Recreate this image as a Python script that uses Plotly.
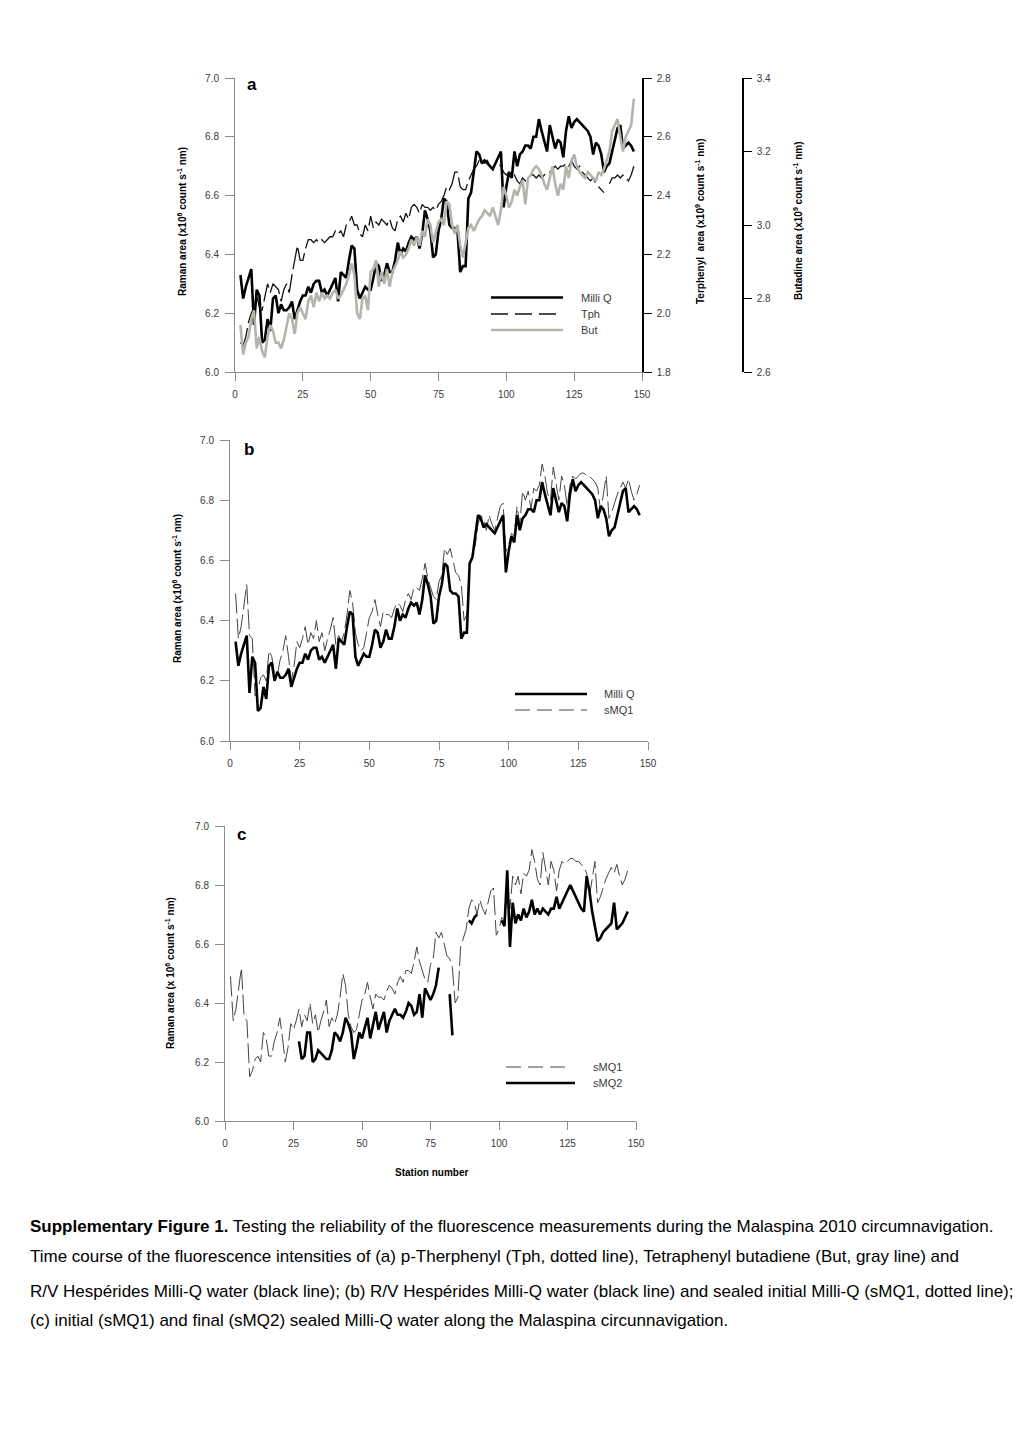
import plotly.graph_objects as go

# ---------------- data ----------------
stations = list(range(2, 148))

milli_q = [
    6.33, 6.25, 6.29, 6.32, 6.35, 6.16, 6.28, 6.26, 6.10, 6.11,
    6.18, 6.14, 6.25, 6.26, 6.20, 6.23, 6.21, 6.21, 6.22, 6.24,
    6.18, 6.21, 6.24, 6.26, 6.26, 6.29, 6.27, 6.30, 6.31, 6.31,
    6.27, 6.28, 6.26, 6.28, 6.30, 6.32, 6.24, 6.34, 6.33, 6.32,
    6.38, 6.43, 6.42, 6.28, 6.25, 6.27, 6.29, 6.28, 6.28, 6.32,
    6.37, 6.36, 6.31, 6.33, 6.37, 6.34, 6.34, 6.38, 6.44, 6.40,
    6.42, 6.41, 6.44, 6.46, 6.45, 6.46, 6.42, 6.47, 6.55, 6.52,
    6.48, 6.39, 6.40, 6.48, 6.52, 6.59, 6.58, 6.50, 6.49, 6.49,
    6.48, 6.34, 6.36, 6.36, 6.59, 6.61, 6.68, 6.75, 6.74, 6.71,
    6.72, 6.71, 6.70, 6.69, 6.71, 6.73, 6.75, 6.56, 6.63, 6.68,
    6.66, 6.75, 6.70, 6.74, 6.75, 6.77, 6.77, 6.76, 6.80, 6.80,
    6.86, 6.82, 6.78, 6.75, 6.84, 6.80, 6.76, 6.79, 6.78, 6.73,
    6.82, 6.87, 6.83, 6.85, 6.86, 6.85, 6.84, 6.83, 6.82, 6.80,
    6.74, 6.78, 6.77, 6.74, 6.68, 6.70, 6.71, 6.75, 6.79, 6.83,
    6.84, 6.76, 6.77, 6.78, 6.77, 6.75,
]

smq1 = [
    6.49, 6.34, 6.38, 6.45, 6.52, 6.35, 6.34, 6.15, 6.17, 6.21,
    6.22, 6.20, 6.30, 6.28, 6.22, 6.22, 6.27, 6.30, 6.35, 6.28,
    6.20, 6.25, 6.33, 6.31, 6.34, 6.38, 6.32, 6.36, 6.34, 6.40,
    6.33, 6.36, 6.30, 6.34, 6.37, 6.41, 6.32, 6.35, 6.33, 6.36,
    6.42, 6.50, 6.46, 6.36, 6.32, 6.30, 6.31, 6.36, 6.41, 6.43,
    6.47, 6.42, 6.38, 6.43, 6.42, 6.42, 6.41, 6.44, 6.46, 6.45,
    6.43, 6.47, 6.49, 6.47, 6.51, 6.51, 6.50, 6.54, 6.59, 6.54,
    6.51, 6.48, 6.47, 6.53, 6.55, 6.64, 6.62, 6.64, 6.60, 6.56,
    6.55, 6.52, 6.40, 6.42, 6.59, 6.62, 6.65, 6.72, 6.75, 6.74,
    6.70, 6.75, 6.72, 6.70, 6.74, 6.78, 6.79, 6.63, 6.65, 6.69,
    6.68, 6.78, 6.72, 6.83, 6.80, 6.83, 6.77, 6.84, 6.83, 6.85,
    6.92, 6.88, 6.82, 6.80, 6.91, 6.86, 6.80, 6.88, 6.85, 6.78,
    6.85, 6.88, 6.87, 6.88, 6.89, 6.89, 6.88, 6.88, 6.87, 6.86,
    6.84, 6.76, 6.82, 6.88, 6.74, 6.76, 6.79, 6.82, 6.84, 6.86,
    6.84, 6.87, 6.83, 6.80, 6.82, 6.85,
]

# Terphenyl (right axis, x10^9)
tph = [
    1.90, 1.89, 1.92, 1.97, 2.00, 2.02, 2.06, 2.02, 2.01, 2.06,
    2.10, 2.07, 2.10, 2.09, 2.08, 2.04, 2.08, 2.10, 2.07, 2.13,
    2.18, 2.23, 2.18, 2.18, 2.22, 2.25, 2.25, 2.24, 2.25, 2.24,
    2.25, 2.24, 2.25, 2.26, 2.26, 2.28, 2.27, 2.28, 2.26, 2.30,
    2.31, 2.33, 2.30, 2.30, 2.27, 2.26, 2.30, 2.28, 2.33, 2.29,
    2.31, 2.30, 2.32, 2.31, 2.30, 2.32, 2.29, 2.28, 2.32, 2.33,
    2.31, 2.34, 2.32, 2.36, 2.37, 2.36, 2.34, 2.37, 2.36, 2.36,
    2.35, 2.36, 2.35, 2.37, 2.38, 2.40, 2.43, 2.42, 2.44, 2.48,
    2.48, 2.43, 2.42, 2.42, 2.45, 2.47, 2.49, 2.50, 2.52, 2.52,
    2.51, 2.52, 2.50, 2.49, 2.51, 2.51, 2.50, 2.48, 2.47, 2.48,
    2.46, 2.47, 2.45, 2.44, 2.46, 2.45, 2.46, 2.47, 2.47, 2.46,
    2.47, 2.46, 2.47, 2.48, 2.48, 2.49, 2.50, 2.49, 2.50, 2.50,
    2.51, 2.50, 2.52, 2.50, 2.49, 2.50, 2.48, 2.47, 2.46, 2.45,
    2.46, 2.44, 2.43, 2.42, 2.41, None, 2.44, 2.46, 2.46, 2.47,
    2.46, 2.47, 2.46, 2.45, 2.47, 2.50,
]

# Tetraphenyl butadiene (second right axis, x10^9)
but = [
    2.728, 2.648, 2.680, 2.696, 2.744, 2.768, 2.664, 2.696, 2.656, 2.640,
    2.696, 2.728, 2.712, 2.680, 2.680, 2.664, 2.688, 2.728, 2.760, 2.744,
    2.704, 2.760, 2.776, 2.760, 2.744, 2.792, 2.808, 2.776, 2.816, 2.792,
    2.816, 2.800, 2.808, 2.800, 2.816, 2.824, 2.800, 2.808, 2.824, 2.840,
    2.864, 2.896, 2.864, 2.760, 2.744, 2.800, 2.808, 2.768, 2.872, 2.880,
    2.904, 2.832, 2.872, 2.840, 2.880, 2.832, 2.872, 2.888, 2.904, 2.928,
    2.912, 2.920, 2.936, 2.960, 2.944, 2.968, 2.944, 2.984, 2.968, 3.016,
    3.000, 2.952, 2.984, 3.008, 3.016, 3.000, 3.064, 3.056, 3.000, 2.976,
    3.000, 2.944, 2.912, 2.952, 2.992, 3.000, 2.984, 3.000, 3.016, 3.024,
    3.040, 3.032, 3.024, 3.048, 3.024, 3.000, 3.040, 3.104, 3.080, 3.048,
    3.064, 3.096, 3.080, 3.104, 3.120, 3.056, 3.128, 3.136, 3.152, 3.160,
    3.152, 3.136, 3.112, 3.096, 3.128, 3.160, 3.112, 3.080, 3.112, 3.096,
    3.160, 3.128, 3.176, 3.192, 3.160, 3.144, 3.136, 3.128, 3.144, 3.136,
    3.128, 3.120, 3.144, 3.136, 3.152, 3.176, 3.200, 3.256, 3.272, 3.288,
    3.240, 3.200, 3.240, 3.256, 3.272, 3.344,
]

smq2_stations = (list(range(27, 79)) + [80, 82, 83, 85, 89, 90, 91, 92, 95]
                 + list(range(101, 148)))
smq2 = [
    6.27, 6.21, 6.22, 6.30, 6.30, 6.20, 6.21, 6.24, 6.23, 6.22,
    6.21, 6.21, 6.24, 6.30, 6.29, 6.27, 6.30, 6.35, 6.33, 6.30,
    6.21, 6.25, 6.30, 6.28, 6.32, 6.35, 6.28, 6.32, 6.37, 6.31,
    6.34, 6.37, 6.30, 6.34, 6.36, 6.38, 6.36, 6.36, 6.35, 6.37,
    6.40, 6.39, 6.36, 6.37, 6.43, 6.35, 6.45, 6.43, 6.41, 6.43,
    6.46, 6.52,
    None, 6.43, 6.29, None, 6.68, 6.67, 6.69, 6.70, None,
    6.68, 6.66, 6.85, 6.59, 6.74, 6.67, 6.70, 6.68, 6.72, 6.69,
    6.71, 6.75, 6.70, 6.72, 6.70, 6.72, 6.71, 6.70, 6.72, 6.72,
    6.76, 6.72, 6.74, 6.76, 6.78, 6.80, 6.78, 6.76, 6.74, 6.72,
    6.71, 6.83, 6.78, 6.71, 6.66, 6.61, 6.62, 6.64, 6.65, 6.66,
    6.67, 6.74, 6.65, 6.66, 6.67, 6.69, 6.71,
]

x_ticks = [0, 25, 50, 75, 100, 125, 150]
raman_ticks = [6.0, 6.2, 6.4, 6.6, 6.8, 7.0]
tph_ticks = [1.8, 2.0, 2.2, 2.4, 2.6, 2.8]
but_ticks = [2.6, 2.8, 3.0, 3.2, 3.4]

# ---------------- layout helpers ----------------
W, H = 1020, 1441
def px(x):
    return x / W
def py(y):
    return 1 - y / H

FONT = "Liberation Sans, Arial, sans-serif"
AX_GRAY = "#8a8a8a"
TICK_TXT = "#3a3a3a"
BUT_GRAY = "#b4b4ac"
SMQ1_COL = "#444444"

fig = go.Figure()

# panel a
fig.add_trace(go.Scatter(x=stations, y=but, xaxis="x", yaxis="y3", mode="lines",
                         line=dict(color=BUT_GRAY, width=2.6), name="But"))
fig.add_trace(go.Scatter(x=stations, y=tph, xaxis="x", yaxis="y2", mode="lines",
                         line=dict(color="#111111", width=1.3, dash="22px,5px"), name="Tph"))
fig.add_trace(go.Scatter(x=stations, y=milli_q, xaxis="x", yaxis="y", mode="lines",
                         line=dict(color="black", width=2.6), name="Milli Q"))
# panel b
fig.add_trace(go.Scatter(x=stations, y=smq1, xaxis="x2", yaxis="y4", mode="lines",
                         line=dict(color=SMQ1_COL, width=1.0, dash="20px,5px"), name="sMQ1"))
fig.add_trace(go.Scatter(x=stations, y=milli_q, xaxis="x2", yaxis="y4", mode="lines",
                         line=dict(color="black", width=2.6), name="Milli Q"))
# panel c
fig.add_trace(go.Scatter(x=stations, y=smq1, xaxis="x3", yaxis="y5", mode="lines",
                         line=dict(color=SMQ1_COL, width=1.0, dash="20px,5px"), name="sMQ1"))
fig.add_trace(go.Scatter(x=smq2_stations, y=smq2, xaxis="x3", yaxis="y5", mode="lines",
                         connectgaps=False,
                         line=dict(color="black", width=2.6), name="sMQ2"))

tickfont = dict(family=FONT, size=10, color=TICK_TXT)

def xax(domain, anchor):
    return dict(domain=domain, anchor=anchor, range=[0, 150], tickvals=x_ticks,
                ticks="outside", ticklen=8, tickcolor=AX_GRAY, showline=True,
                linecolor=AX_GRAY, linewidth=1, showgrid=False, zeroline=False,
                tickfont=tickfont, fixedrange=True, automargin=False,
                ticklabelstandoff=5)

def yax(domain, anchor):
    return dict(domain=domain, anchor=anchor, range=[6.0, 7.0], tickvals=raman_ticks,
                tickformat=".1f", ticks="outside", ticklen=9, tickcolor=AX_GRAY,
                showline=True, linecolor=AX_GRAY, linewidth=1, showgrid=False,
                zeroline=False, tickfont=tickfont, ticklabelstandoff=4, automargin=False)

da_x = [px(235), px(642)]
da_y = [py(372), py(78)]
db_x = [px(230), px(648)]
db_y = [py(741), py(440)]
dc_x = [px(225), px(636)]
dc_y = [py(1121), py(826)]

fig.update_layout(
    width=W, height=H, margin=dict(l=0, r=0, t=0, b=0, autoexpand=False),
    paper_bgcolor="white", plot_bgcolor="rgba(0,0,0,0)",
    showlegend=False,
    font=dict(family=FONT, color="black"),
    xaxis=xax(da_x, "y"),
    yaxis=yax(da_y, "x"),
    yaxis2=dict(overlaying="y", side="right", anchor="x", range=[1.8, 2.8],
                tickvals=tph_ticks, tickformat=".1f", ticks="outside", ticklen=8,
                tickcolor="black", showline=True, linecolor="black", linewidth=1.5,
                showgrid=False, zeroline=False, tickfont=tickfont, ticklabelstandoff=3,
                automargin=False),
    yaxis3=dict(overlaying="y", side="right", anchor="free", position=px(743),
                range=[2.6, 3.4], tickvals=but_ticks, tickformat=".1f", ticks="outside",
                ticklen=8, tickcolor="black", showline=True, linecolor="black",
                linewidth=1.5, showgrid=False, zeroline=False, tickfont=tickfont,
                ticklabelstandoff=3, automargin=False),
    xaxis2=xax(db_x, "y4"),
    yaxis4=yax(db_y, "x2"),
    xaxis3=xax(dc_x, "y5"),
    yaxis5=yax(dc_y, "x3"),
)

ann = []
tfont = dict(family=FONT, size=10, color="black")
def vtitle(text, x, y):
    ann.append(dict(text="<b>" + text + "</b>", x=px(x), y=py(y), xref="paper", yref="paper",
                    textangle=-90, showarrow=False, font=tfont, xanchor="center", yanchor="middle"))

vtitle("Raman area (x10<sup>6</sup> count s<sup>-1</sup> nm)", 182, 222)
vtitle("Terphenyl  area (x10<sup>9</sup> count s<sup>-1</sup> nm)", 700, 221)
vtitle("Butadine area (x10<sup>9</sup> count s<sup>-1</sup> nm)", 798, 221)
vtitle("Raman area (x10<sup>6</sup> count s<sup>-1</sup> nm)", 177, 589)
vtitle("Raman area (x 10<sup>6</sup> count s<sup>-1</sup> nm)", 170, 973)
ann.append(dict(text="<b>Station number</b>", x=px(431), y=py(1172), xref="paper", yref="paper",
                showarrow=False, font=tfont, xanchor="center", yanchor="middle"))

for letter, x, y in [("a", 252, 84), ("b", 249, 450), ("c", 241, 835)]:
    ann.append(dict(text="<b>" + letter + "</b>", x=px(x), y=py(y), xref="paper", yref="paper",
                    showarrow=False, font=dict(family=FONT, size=17, color="black"),
                    xanchor="center", yanchor="middle"))

# legends (drawn as keys in paper space)
shapes = []
lfont = dict(family=FONT, size=11, color=TICK_TXT)
def key(x0, x1, y, label, tx, color, width, dash=None):
    line = dict(color=color, width=width)
    if dash:
        line["dash"] = dash
    shapes.append(dict(type="line", xref="paper", yref="paper", x0=px(x0), x1=px(x1),
                       y0=py(y), y1=py(y), line=line))
    ann.append(dict(text=label, x=px(tx), y=py(y), xref="paper", yref="paper",
                    showarrow=False, font=lfont, xanchor="left", yanchor="middle"))

key(491, 563, 297.5, "Milli Q", 579, "black", 2.6)
key(491, 563, 314, "Tph", 579, "#111111", 1.5, "17px,7px")
key(491, 563, 330, "But", 579, BUT_GRAY, 2.6)

key(515, 587, 694, "Milli Q", 602, "black", 2.6)
key(515, 587, 710, "sMQ1", 602, SMQ1_COL, 1.0, "15px,7px")

key(506, 571, 1067, "sMQ1", 591, SMQ1_COL, 1.0, "15px,7px")
key(506, 575, 1083, "sMQ2", 591, "black", 2.6)

# caption
cfont = dict(family=FONT, size=17, color="black")
caption = [
    ("<b>Supplementary Figure 1.</b> Testing the reliability of the fluorescence measurements during the Malaspina 2010 circumnavigation.", 1226),
    ("Time course of the fluorescence intensities of (a) p-Therphenyl (Tph, dotted line), Tetraphenyl butadiene (But, gray line) and", 1256),
    ("R/V Hespérides Milli-Q water (black line); (b) R/V Hespérides Milli-Q water (black line) and sealed initial Milli-Q (sMQ1, dotted line);", 1291),
    ("(c) initial (sMQ1) and final (sMQ2) sealed Milli-Q water along the Malaspina circunnavigation.", 1320),
]
for text, y in caption:
    ann.append(dict(text=text, x=px(28), y=py(y), xref="paper", yref="paper", showarrow=False,
                    font=cfont, xanchor="left", yanchor="middle", align="left"))

fig.update_layout(annotations=ann, shapes=shapes)

fig.write_html("out.html",
               config={"displayModeBar": False},
               post_script="document.body.style.margin='0';document.body.style.overflow='hidden';")
